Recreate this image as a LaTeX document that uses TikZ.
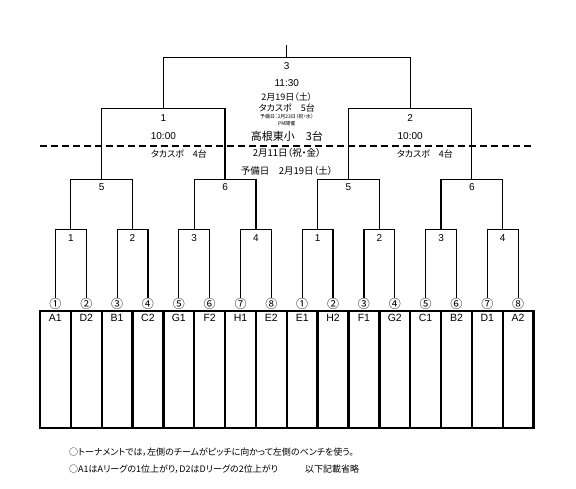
\documentclass[tikz,border=0pt]{standalone}
\usepackage{fontspec}
\setmainfont{Liberation Sans}
\newfontfamily\jp[RawFeature=+palt]{Noto Sans CJK JP}
\usetikzlibrary{positioning}

\begin{document}
\begin{tikzpicture}[
    x=1bp, y=-1bp,
    bracket/.style={line width=1.2bp},
    frame/.style={line width=2.4bp},
    daybreak/.style={line width=2.2bp, dash pattern=on 7bp off 4bp},
    rnd/.style={font=\fontsize{10bp}{12bp}\selectfont, inner sep=0bp},
    seed/.style={font=\jp\fontsize{12bp}{13bp}\selectfont, inner sep=0bp},
    team/.style={font=\fontsize{10.5bp}{12bp}\selectfont, inner sep=0bp},
    info/.style={font=\jp\fontsize{9bp}{11bp}\selectfont, inner sep=0bp},
    tiny/.style={font=\jp\fontsize{5bp}{6bp}\selectfont, inner sep=0bp},
    note/.style={font=\jp\fontsize{9bp}{11bp}\selectfont, inner sep=0bp, anchor=west}
]
\useasboundingbox (0,0) rectangle (576,489);

% seeds and teams
\foreach \i/\s/\t in {1/①/A1, 2/②/D2, 3/③/B1, 4/④/C2, 5/⑤/G1, 6/⑥/F2, 7/⑦/H1, 8/⑧/E2,
                     9/①/E1, 10/②/H2, 11/③/F1, 12/④/G2, 13/⑤/C1, 14/⑥/B2, 15/⑦/D1, 16/⑧/A2} {
    \coordinate (leaf\i) at ({55.4+30.85*(\i-1)},298);
    \node[seed] (seed\i) at ({55.4+30.85*(\i-1)},303.7) {\s};
    \node[team] (team\i) at ({55.4+30.85*(\i-1)},317.5) {\t};
}

% first round
\foreach \k/\n in {1/1,2/2,3/3,4/4,5/1,6/2,7/3,8/4} {
    \pgfmathtruncatemacro\a{2*\k-1}
    \pgfmathtruncatemacro\b{2*\k}
    \coordinate (m\k) at ({70.825+61.7*(\k-1)},229.3);
    \draw[bracket] (leaf\a) |- (m\k) -| (leaf\b);
    \node[rnd, below=5bp of m\k] (lm\k) {\n};
}

% second round
\foreach \k/\n in {1/5,2/6,3/5,4/6} {
    \pgfmathtruncatemacro\a{2*\k-1}
    \pgfmathtruncatemacro\b{2*\k}
    \coordinate (q\k) at ({101.675+123.4*(\k-1)},179.3);
    \draw[bracket] (m\a) |- (q\k) -| (m\b);
    \node[rnd, below=4bp of q\k] (lq\k) {\n};
}

% semi finals
\foreach \k in {1,2} {
    \pgfmathtruncatemacro\a{2*\k-1}
    \pgfmathtruncatemacro\b{2*\k}
    \coordinate (s\k) at ({163.375+246.8*(\k-1)},108.7);
    \draw[bracket] (q\a) |- (s\k) -| (q\b);
    \node[rnd, below=6bp of s\k] (ls\k) {\k};
    \node[rnd] (time\k) at ([yshift=-27.3bp]s\k) {10:00};
}
\node[info] (venue1) at (179,154) {タカスポ　4台};
\node[info] (venue2) at (425,154) {タカスポ　4台};

% final
\coordinate (fin) at (286.775,57.3);
\coordinate (top) at (286.775,45);
\draw[bracket] (s1) |- (fin) -| (s2);
\draw[bracket] (fin) -- (top);
\node[rnd, below=5bp of fin] (lfin) {3};
\node[rnd] (timefin) at (286.8,82.7) {11:30};
\node[info] (datefin) at (286.8,96.7) {2月19日（土）};
\node[info] (venuefin) at (286.8,107.7) {タカスポ　5台};
\node[tiny] (sparefin) at (286.8,116.7) {予備日：2月23日（祝・水）};
\node[tiny] (pmfin) at (286.8,123.3) {PM開催};
\node[info, font=\jp\fontsize{11bp}{13bp}\selectfont] (school) at (286.8,136.7) {高根東小　3台};
\node[info, font=\jp\fontsize{9.5bp}{11bp}\selectfont] (day1) at (286.8,153.3) {2月11日（祝・金）};
\node[info, font=\jp\fontsize{9.5bp}{11bp}\selectfont] (spare1) at (286.8,171) {予備日　2月19日（土）};

% day line
\coordinate (dashL) at (40,145.7);
\coordinate (dashR) at (533.6,145.7);
\draw[daybreak] (dashL) -- (dashR);

% bench table
\coordinate (tabNW) at (40,311);
\coordinate (tabSE) at (533.6,428);
\draw[frame] (tabNW) rectangle (tabSE);
\foreach \k in {1,...,15}
    \draw[frame] ({40+30.85*\k},311) -- ({40+30.85*\k},428);

% notes
\node[note] (note1) at (69,452.3) {○トーナメントでは，左側のチームがピッチに向かって左側のベンチを使う。};
\node[note] (note2) at (69,469) {○A1はAリーグの1位上がり，D2はDリーグの2位上がり　　　以下記載省略};
\end{tikzpicture}
\end{document}
